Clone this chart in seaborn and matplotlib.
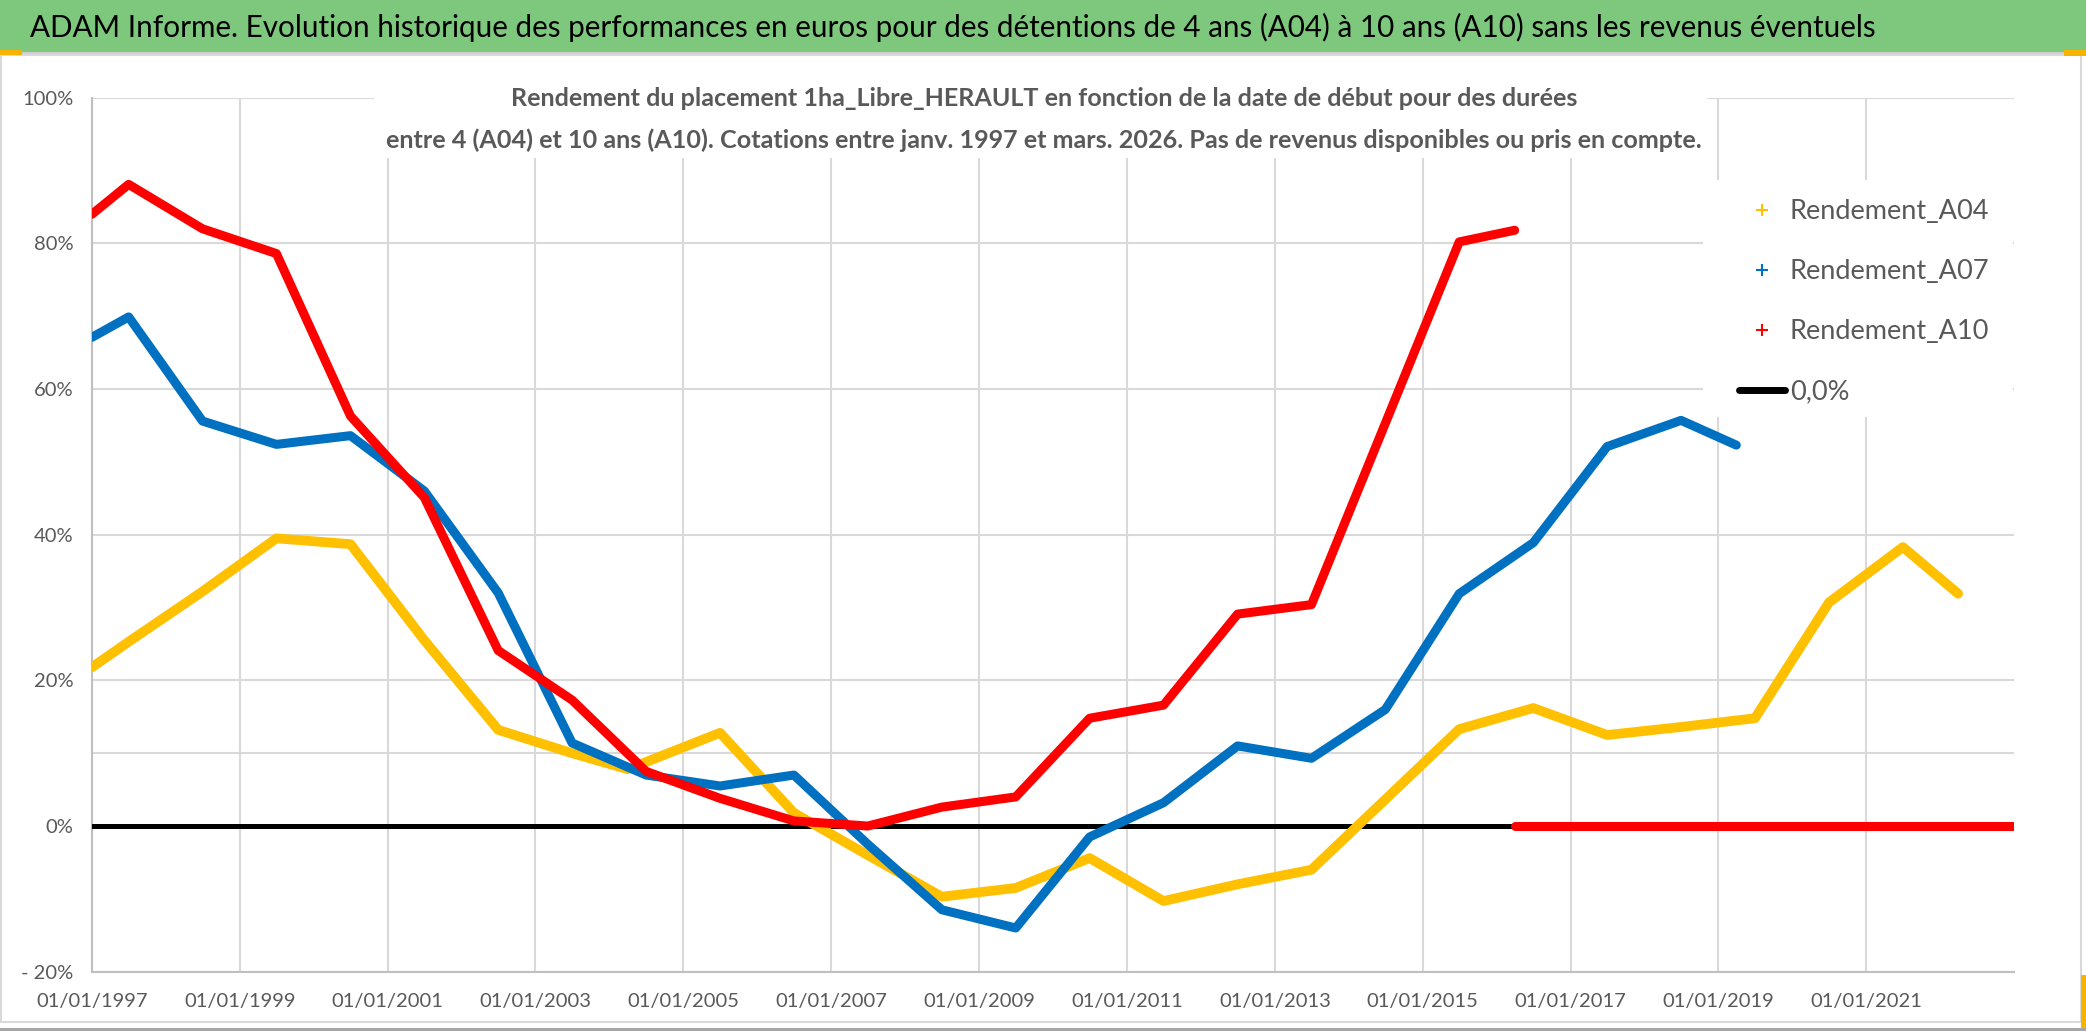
import pandas as pd
import numpy as np
import matplotlib
matplotlib.use('Agg')
import matplotlib.pyplot as plt
import matplotlib.dates as mdates
from matplotlib.patches import Rectangle
from matplotlib.lines import Line2D
from matplotlib.ticker import FixedLocator, FixedFormatter
import seaborn as sns

# values (returns in %)
a04_dates = ['1997-01-01', '1997-07-01', '1998-07-01', '1999-07-01', '2000-07-01', '2001-07-01',
             '2002-07-01', '2003-07-01', '2004-04-01', '2005-07-01', '2006-07-01', '2007-07-01',
             '2008-07-01', '2009-07-01', '2010-07-01', '2011-07-01', '2012-07-01', '2013-07-01',
             '2015-07-01', '2016-07-01', '2017-07-01', '2018-07-01', '2019-07-01', '2020-07-01',
             '2021-07-01', '2022-03-31']
a04_values = [21.8, 25.3, 32.2, 39.5, 38.7, 25.5,
              13.2, 10.0, 7.8, 12.8, 1.8, -4.0,
              -9.7, -8.5, -4.4, -10.3, -8.0, -6.0,
              13.3, 16.2, 12.5, 13.6, 14.8, 30.7,
              38.3, 31.9]

a07_dates = ['1997-01-01', '1997-07-01', '1998-07-01', '1999-07-01', '2000-07-01', '2001-07-01',
             '2002-07-01', '2003-07-01', '2004-07-01', '2005-07-01', '2006-07-01', '2007-07-01',
             '2008-07-01', '2009-07-01', '2010-07-01', '2011-07-01', '2012-07-01', '2013-07-01',
             '2014-07-01', '2015-07-01', '2016-07-01', '2017-07-01', '2018-07-01', '2019-03-31']
a07_values = [67.1, 69.9, 55.6, 52.4, 53.6, 46.0,
              32.0, 11.4, 7.0, 5.5, 7.0, -2.5,
              -11.5, -14.0, -1.5, 3.2, 11.0, 9.3,
              16.0, 31.9, 38.9, 52.1, 55.7, 52.3]

a10_dates = ['1997-01-01', '1997-07-01', '1998-07-01', '1999-07-01', '2000-07-01', '2001-07-01',
             '2002-07-01', '2003-07-01', '2004-07-01', '2005-07-01', '2006-07-01', '2007-07-01',
             '2008-07-01', '2009-07-01', '2010-07-01', '2011-07-01', '2012-07-01', '2013-07-01',
             '2014-07-01', '2015-07-01', '2016-03-31']
a10_values = [84.0, 88.1, 82.0, 78.6, 56.3, 45.1,
              24.1, 17.3, 7.5, 3.8, 0.7, 0.0,
              2.6, 4.0, 14.8, 16.6, 29.1, 30.4,
              55.3, 80.2, 81.8]

# A10 shown as 0 once the 10 year horizon is no longer available
a10_zero_dates = ['2016-04-01', '2023-01-01']
a10_zero_values = [0.0, 0.0]

zero_dates = ['1997-01-01', '2023-01-01']
zero_values = [0.0, 0.0]

x_tick_dates = ['1997-01-01', '1999-01-01', '2001-01-01', '2003-01-01', '2005-01-01', '2007-01-01',
                '2009-01-01', '2011-01-01', '2013-01-01', '2015-01-01', '2017-01-01', '2019-01-01',
                '2021-01-01']
y_ticks = [-20, 0, 20, 40, 60, 80, 100]
y_tick_labels = ['- 20%', '0%', '20%', '40%', '60%', '80%', '100%']

series_names = ['Rendement_A04', 'Rendement_A07', 'Rendement_A10', '0,0%']
colors = ['#FFC000', '#0070C0', '#FF0000', '#000000']

title = ("ADAM Informe. Evolution historique des performances en euros pour des détentions "
         "de 4 ans (A04) à 10 ans (A10) sans les revenus éventuels")
subtitle_1 = "Rendement du placement 1ha_Libre_HERAULT en fonction de la date de début pour des durées"
subtitle_2 = ("entre 4 (A04) et 10 ans (A10). Cotations entre janv. 1997 et mars. 2026. "
              "Pas de revenus disponibles ou pris en compte.")


def to_df(dates, values):
    return pd.DataFrame({'date': pd.to_datetime(dates), 'value': values})


sns.set_theme(style='white')
plt.rcParams['font.family'] = ['Lato', 'DejaVu Sans']

W, H = 2086, 1031
fig = plt.figure(figsize=(W / 100, H / 100), dpi=100)
fig.patch.set_facecolor('white')


def fig_rect(x0, y0, x1, y1, **kw):
    # rectangle given in pixel coords from the top-left corner
    fig.add_artist(Rectangle((x0 / W, 1 - y1 / H), (x1 - x0) / W, (y1 - y0) / H,
                             transform=fig.transFigure, **kw))


# green title band + chart frame
fig_rect(0, 0, W, 52, facecolor='#7DC87D', edgecolor='none', zorder=0)
fig_rect(0, 52, W, 55, facecolor='#D0D0D0', edgecolor='none', zorder=0)
fig_rect(1, 55, 2081, 1022, facecolor='none', edgecolor='#D9D9D9', lw=1.5, zorder=0)
fig_rect(0, 1028, W, 1031, facecolor='#A6A6A6', edgecolor='none', zorder=0)
# excel selection handles
fig_rect(0, 50, 22, 55, facecolor='#F4B400', edgecolor='none', zorder=0.5)
fig_rect(2064, 50, W, 56, facecolor='#F4B400', edgecolor='none', zorder=0.5)
fig_rect(2081, 975, W, 1028, facecolor='#F4B400', edgecolor='none', zorder=0.5)
fig.text(30 / W, 1 - 27 / H, title, fontsize=21.3, color='black', ha='left', va='center')

ax = fig.add_axes([92 / W, 1 - 971.7 / H, (2014 - 92) / W, (971.7 - 97.7) / H])
ax.set_facecolor('none')

sns.lineplot(data=to_df(zero_dates, zero_values), x='date', y='value', ax=ax,
             color=colors[3], lw=3.6, zorder=3)
sns.lineplot(data=to_df(a04_dates, a04_values), x='date', y='value', ax=ax,
             color=colors[0], lw=7, zorder=4)
sns.lineplot(data=to_df(a07_dates, a07_values), x='date', y='value', ax=ax,
             color=colors[1], lw=6.5, zorder=5)
sns.lineplot(data=to_df(a10_dates, a10_values), x='date', y='value', ax=ax,
             color=colors[2], lw=6.5, zorder=6)
sns.lineplot(data=to_df(a10_zero_dates, a10_zero_values), x='date', y='value', ax=ax,
             color=colors[2], lw=6.5, zorder=6)

ax.set_xlim(pd.Timestamp('1997-01-01'), pd.Timestamp('2023-01-01'))
ax.set_ylim(-20, 100)
ax.xaxis.set_major_locator(FixedLocator(mdates.date2num(pd.to_datetime(x_tick_dates))))
ax.xaxis.set_major_formatter(mdates.DateFormatter('%d/%m/%Y'))
ax.yaxis.set_major_locator(FixedLocator(y_ticks))
ax.yaxis.set_major_formatter(FixedFormatter(y_tick_labels))
ax.set_xlabel('')
ax.set_ylabel('')
ax.grid(True, color='#D9D9D9', lw=1.5, zorder=0)
ax.axhline(10, color='#D9D9D9', lw=1.5, zorder=0)
ax.tick_params(axis='both', length=0, labelsize=14.5, colors='#595959')
ax.tick_params(axis='y', pad=13.5)
ax.tick_params(axis='x', pad=15)
for side in ['top', 'right']:
    ax.spines[side].set_visible(False)
for side in ['left', 'bottom']:
    ax.spines[side].set_color('#BFBFBF')
    ax.spines[side].set_linewidth(1.5)

# white boxes behind subtitle and legend (hide the grid there)
fig_rect(374, 62, 1707, 158, facecolor='white', edgecolor='none', zorder=1)
fig_rect(1703, 180, 2013, 417, facecolor='white', edgecolor='none', zorder=1)

fig.text(1044 / W, 1 - 99 / H, subtitle_1, fontsize=18.1, color='#595959',
         fontweight='bold', ha='center', va='center', zorder=3)
fig.text(1044 / W, 1 - 140 / H, subtitle_2, fontsize=18.1, color='#595959',
         fontweight='bold', ha='center', va='center', zorder=3)

handles = [Line2D([], [], color=colors[0], marker='+', ls='none', markersize=8, mew=1.5),
           Line2D([], [], color=colors[1], marker='+', ls='none', markersize=8, mew=1.5),
           Line2D([], [], color=colors[2], marker='+', ls='none', markersize=8, mew=1.5),
           Line2D([], [], color=colors[3], lw=5)]
leg = fig.legend(handles, series_names, loc='upper left', bbox_to_anchor=(1739 / W, 1 - 199 / H),
                 frameon=False, fontsize=19.5, borderpad=0, borderaxespad=0,
                 handlelength=1.7, handletextpad=0.18, labelspacing=1.3)
for t in leg.get_texts():
    t.set_color('#595959')

fig.savefig('out.png', dpi=100, facecolor='white')
